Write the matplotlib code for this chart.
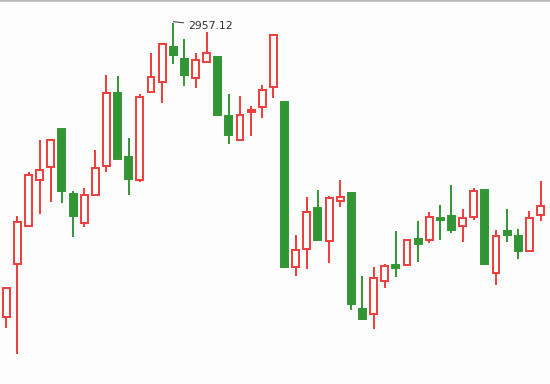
import numpy as np
import matplotlib
matplotlib.use("Agg")
import matplotlib.pyplot as plt

# daily bars: open, high, low, close
opens = [2516.1, 2595.6, 2652.6, 2721.6, 2741.1, 2798.1, 2700.6, 2657.1, 2699.1, 2742.6,
         2852.1, 2756.1, 2721.6, 2853.6, 2868.6, 2921.1, 2903.1, 2874.6, 2898.6, 2906.1,
         2817.6, 2781.6, 2823.6, 2831.1, 2861.1, 2838.6, 2591.1, 2618.1, 2679.6, 2630.1,
         2690.1, 2702.1, 2528.1, 2520.6, 2570.1, 2594.1, 2594.1, 2633.1, 2631.6, 2664.6,
         2667.6, 2652.6, 2666.1, 2706.6, 2582.1, 2645.1, 2637.6, 2615.1, 2669.1]
highs = [2561.1, 2667.6, 2733.6, 2781.6, 2781.6, 2798.1, 2705.1, 2709.6, 2766.6, 2879.1,
         2877.6, 2784.6, 2850.6, 2912.1, 2925.6, 2957.12, 2933.1, 2912.1, 2943.6, 2906.1,
         2850.6, 2847.6, 2832.6, 2864.1, 2939.1, 2840.1, 2639.1, 2696.1, 2706.6, 2697.6,
         2721.6, 2702.1, 2577.6, 2591.1, 2595.6, 2645.1, 2631.6, 2660.1, 2673.6, 2684.1,
         2714.1, 2678.1, 2709.6, 2706.6, 2646.6, 2678.1, 2648.1, 2675.1, 2720.1]
lows = [2499.6, 2460.6, 2651.1, 2670.6, 2688.6, 2687.1, 2636.1, 2651.1, 2699.1, 2733.6,
        2753.1, 2699.1, 2718.6, 2853.6, 2837.1, 2895.6, 2862.6, 2859.6, 2897.1, 2818.4,
        2775.6, 2780.1, 2787.6, 2814.6, 2844.6, 2591.1, 2577.6, 2588.1, 2631.6, 2597.1,
        2681.1, 2526.6, 2511.6, 2498.1, 2559.6, 2576.1, 2592.6, 2598.6, 2627.1, 2631.6,
        2642.1, 2628.6, 2661.6, 2594.1, 2564.1, 2628.6, 2603.1, 2615.1, 2660.1]
closes = [2559.6, 2658.6, 2729.1, 2736.6, 2781.6, 2705.1, 2667.6, 2699.1, 2739.6, 2852.1,
          2753.1, 2723.1, 2846.1, 2876.1, 2925.6, 2909.1, 2879.1, 2901.6, 2912.1, 2819.1,
          2789.1, 2819.1, 2826.6, 2856.6, 2939.1, 2591.1, 2616.6, 2673.6, 2631.6, 2694.6,
          2696.1, 2535.6, 2513.1, 2574.6, 2592.6, 2589.6, 2631.6, 2625.6, 2666.1, 2661.6,
          2646.6, 2664.6, 2705.1, 2595.6, 2637.6, 2639.1, 2615.1, 2664.6, 2682.6]

bg = '#fcfcfc'
up_col = '#f03c3c'
down_col = '#339634'

o = np.array(opens)
h = np.array(highs)
l = np.array(lows)
c = np.array(closes)
x = np.arange(len(o))
up = c >= o

fig = plt.figure(figsize=(5.5, 3.84), dpi=100, facecolor=bg)
ax = fig.add_axes([0, 0, 1, 1], facecolor=bg)

# wicks
ax.vlines(x[up], l[up], h[up], color=up_col, lw=1.4, zorder=1)
ax.vlines(x[~up], l[~up], h[~up], color=down_col, lw=1.4, zorder=1)

# bodies
w = 0.62
ax.bar(x[up], c[up] - o[up], bottom=o[up], width=w, facecolor=bg,
       edgecolor=up_col, lw=1.4, zorder=2)
ax.bar(x[~up], o[~up] - c[~up], bottom=c[~up], width=w, facecolor=down_col,
       edgecolor=down_col, lw=1.4, zorder=2)

# mark the top
imax = int(np.argmax(h))
ax.annotate('%.2f' % h[imax], xy=(x[imax], h[imax] + 2), xytext=(10.5, -3),
            textcoords='offset points', ha='left', va='center', fontsize=7.8,
            color='#333333',
            arrowprops=dict(arrowstyle='-', color='#333333', lw=0.7,
                            shrinkA=1, shrinkB=0))

ax.set_xlim(-0.566, 48.85)
ax.set_ylim(2415.6, 2991.6)
ax.set_xticks([])
ax.set_yticks([])
for s in ['left', 'right', 'bottom']:
    ax.spines[s].set_visible(False)
ax.spines['top'].set_color('#bbbbbb')
ax.spines['top'].set_linewidth(2)

fig.savefig('out.png', dpi=100, facecolor=bg)
